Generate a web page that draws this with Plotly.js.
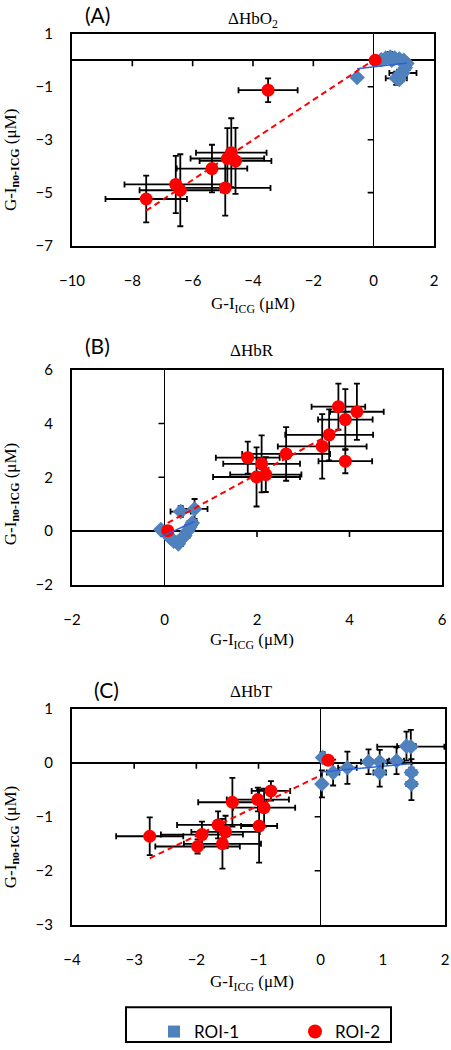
<!DOCTYPE html>
<html><head><meta charset="utf-8">
<script src="https://cdn.plot.ly/plotly-3.0.1.min.js"></script>
<style>html,body{margin:0;padding:0;background:#fff}</style>
</head><body><div id="chart" style="width:451px;height:1050px"></div>
<script>
// ---------- Panel A: ΔHbO2 ----------
const A_roi1_x  = [-0.55, 0.25, 0.40, 0.55, 0.70, 0.85, 1.00, 1.10, 1.05, 0.97, 0.85, 0.75, 0.85, 0.60];
const A_roi1_y  = [-0.65, 0.02, 0.08, 0.12, 0.08, 0.05, 0.00, -0.12, -0.28, -0.48, -0.55, -0.68, -0.72, 0.00];
const A_roi1_ex = [0.10, 0.10, 0.12, 0.10, 0.12, 0.15, 0.10, 0.12, 0.15, 0.45, 0.20, 0.35, 0.15, 0.10];
const A_roi1_ey = [0.12, 0.10, 0.15, 0.20, 0.15, 0.12, 0.10, 0.15, 0.15, 0.20, 0.20, 0.25, 0.15, 0.10];
const A_roi2_x  = [0.05, -3.50, -4.72, -4.85, -4.58, -5.36, -4.92, -6.56, -6.41, -7.54];
const A_roi2_y  = [0.00, -1.13, -3.49, -3.71, -3.80, -4.09, -4.82, -4.69, -4.91, -5.24];
const A_roi2_ex = [0.00, 0.98, 1.17, 1.22, 1.19, 1.17, 1.50, 1.70, 1.35, 1.35];
const A_roi2_ey = [0.00, 0.45, 1.30, 1.15, 1.25, 0.90, 1.05, 1.08, 1.36, 0.88];
const A_fit1_x = [-0.55, 1.10], A_fit1_y = [-0.32, -0.10];
const A_fit2_x = [-7.54, 0.05], A_fit2_y = [-5.68, 0.05];
const A_xrange = [-10, 2], A_xticks = [-10, -8, -6, -4, -2, 0, 2];
const A_yrange = [-7, 1],  A_yticks = [-7, -5, -3, -1, 1];

// ---------- Panel B: ΔHbR ----------
const B_roi1_x  = [-0.08, 0.05, 0.12, 0.20, 0.28, 0.36, 0.44, 0.50, 0.55, 0.60, 0.30, 0.35, 0.65];
const B_roi1_y  = [0.05, -0.10, -0.25, -0.38, -0.42, -0.30, -0.18, 0.00, 0.15, 0.30, -0.48, 0.72, 0.82];
const B_roi1_ex = [0.05, 0.05, 0.08, 0.08, 0.10, 0.10, 0.10, 0.08, 0.10, 0.10, 0.10, 0.22, 0.28];
const B_roi1_ey = [0.08, 0.10, 0.12, 0.15, 0.15, 0.15, 0.12, 0.12, 0.12, 0.15, 0.12, 0.20, 0.37];
const B_roi2_x  = [0.07, 1.80, 2.10, 1.99, 2.19, 2.63, 3.41, 3.56, 3.76, 3.91, 4.16, 3.91];
const B_roi2_y  = [0.01, 2.73, 2.50, 2.01, 2.10, 2.87, 3.15, 3.58, 4.63, 4.15, 4.44, 2.60];
const B_roi2_ex = [0.00, 0.69, 0.83, 0.94, 0.77, 0.95, 0.96, 0.95, 0.58, 0.59, 0.58, 0.58];
const B_roi2_ey = [0.00, 0.60, 1.06, 1.10, 0.65, 1.00, 1.20, 0.95, 0.86, 1.13, 1.05, 0.45];
const B_fit1_x = [-0.08, 0.65], B_fit1_y = [-0.22, 0.35];
const B_fit2_x = [0.07, 3.79],  B_fit2_y = [0.30, 3.80];
const B_xrange = [-2, 6], B_xticks = [-2, 0, 2, 4, 6];
const B_yrange = [-2, 6], B_yticks = [-2, 0, 2, 4, 6];

// ---------- Panel C: ΔHbT ----------
const C_roi1_x  = [0.03, 0.02, 0.20, 0.43, 0.77, 0.95, 0.95, 1.22, 1.38, 1.45, 1.46, 1.46];
const C_roi1_y  = [0.10, -0.39, -0.18, -0.09, 0.02, 0.02, -0.18, 0.04, 0.31, 0.30, -0.18, -0.39];
const C_roi1_ex = [0.05, 0.05, 0.10, 0.15, 0.12, 0.12, 0.10, 0.12, 0.15, 0.54, 0.08, 0.08];
const C_roi1_ey = [0.10, 0.25, 0.24, 0.30, 0.23, 0.22, 0.26, 0.25, 0.27, 0.31, 0.25, 0.30];
const C_roi2_x  = [0.12, -2.75, -1.98, -1.91, -1.65, -1.53, -1.58, -1.42, -1.01, -0.91, -0.80, -0.99];
const C_roi2_y  = [0.05, -1.36, -1.55, -1.33, -1.15, -1.28, -1.50, -0.73, -0.68, -0.83, -0.52, -1.17];
const C_roi2_ex = [0.00, 0.54, 0.68, 0.66, 0.66, 0.55, 0.62, 0.55, 0.50, 0.50, 0.31, 0.29];
const C_roi2_ey = [0.00, 0.35, 0.13, 0.24, 0.25, 0.30, 0.46, 0.45, 0.22, 0.35, 0.18, 0.68];
const C_fit1_x = [0.00, 1.47],  C_fit1_y = [-0.17, -0.01];
const C_fit2_x = [-2.75, 0.00], C_fit2_y = [-1.77, -0.23];
const C_xrange = [-4, 2], C_xticks = [-4, -3, -2, -1, 0, 1, 2];
const C_yrange = [-3, 1], C_yticks = [-3, -2, -1, 0, 1];

// ---------- labels ----------
const panelLetters = ['(A)', '(B)', '(C)'];
const panelTitles = ['ΔHbO<sub>2</sub>', 'ΔHbR', 'ΔHbT'];
const xTitle = 'G-I<sub>ICG</sub> (μM)';
const yTitle = 'G-I<sub><b>no-ICG</b></sub> (μM)';
const seriesNames = ['ROI-1', 'ROI-2'];

// ---------- layout geometry (pixels) ----------
const W = 451, H = 1050;
const boxes = [
  {l: 72, r: 434, t: 34, b: 247, letter: [97, 15], title: [253, 20], xt: [253, 307], yt: [12, 161]},
  {l: 72, r: 442, t: 372, b: 588, letter: [97, 347], title: [252, 353], xt: [252, 645], yt: [12, 497]},
  {l: 72, r: 445, t: 713, b: 930, letter: [106, 693], title: [252, 695], xt: [252, 989], yt: [12, 842]}
];
const legendBox = {l: 126, r: 391, t: 1013, b: 1048};
const px = v => v / W, py = v => 1 - v / H;
const TICKLEN = 6;

const panels = [
  {r1: [A_roi1_x, A_roi1_y, A_roi1_ex, A_roi1_ey], r2: [A_roi2_x, A_roi2_y, A_roi2_ex, A_roi2_ey],
   f1: [A_fit1_x, A_fit1_y], f2: [A_fit2_x, A_fit2_y], xr: A_xrange, xt: A_xticks, yr: A_yrange, yt: A_yticks},
  {r1: [B_roi1_x, B_roi1_y, B_roi1_ex, B_roi1_ey], r2: [B_roi2_x, B_roi2_y, B_roi2_ex, B_roi2_ey],
   f1: [B_fit1_x, B_fit1_y], f2: [B_fit2_x, B_fit2_y], xr: B_xrange, xt: B_xticks, yr: B_yrange, yt: B_yticks},
  {r1: [C_roi1_x, C_roi1_y, C_roi1_ex, C_roi1_ey], r2: [C_roi2_x, C_roi2_y, C_roi2_ex, C_roi2_ey],
   f1: [C_fit1_x, C_fit1_y], f2: [C_fit2_x, C_fit2_y], xr: C_xrange, xt: C_xticks, yr: C_yrange, yt: C_yticks}
];

const BLUE = '#4F81BD', RED = '#FF0000', FIT_BLUE = '#2F62D8';
const tickFont = {family: 'Lato, Carlito, sans-serif', size: 15, color: '#000'};
const serif = {family: 'Liberation Serif, Times New Roman, serif', size: 17, color: '#000'};

const traces = [], shapes = [], annotations = [];
const layout = {
  width: W, height: H, margin: {l: 0, r: 0, t: 0, b: 0},
  paper_bgcolor: '#fff', plot_bgcolor: '#fff', showlegend: true,
  legend: {orientation: 'h', x: px(154), y: py(1020), xanchor: 'left', yanchor: 'top',
           bgcolor: 'rgba(0,0,0,0)', borderwidth: 0, font: {family: 'Lato, Carlito, sans-serif', size: 17, color: '#000'},
           entrywidth: 96, entrywidthmode: 'pixels', itemclick: false},
  shapes: shapes, annotations: annotations
};

function errBar(arr) {
  return {type: 'data', array: arr, visible: true, color: '#000', thickness: 1.8, width: 3};
}

panels.forEach((p, i) => {
  const s = i === 0 ? '' : String(i + 1);
  const xa = 'x' + s, ya = 'y' + s;
  const bx = boxes[i];
  traces.push({type: 'scatter', mode: 'markers', x: p.r1[0], y: p.r1[1], xaxis: xa, yaxis: ya, showlegend: false,
    error_x: errBar(p.r1[2]), error_y: errBar(p.r1[3]),
    marker: {symbol: 'diamond', size: 12, color: BLUE}, hoverinfo: 'skip'});
  traces.push({type: 'scatter', mode: 'markers', x: p.r2[0], y: p.r2[1], xaxis: xa, yaxis: ya, showlegend: false,
    error_x: errBar(p.r2[2]), error_y: errBar(p.r2[3]),
    marker: {symbol: 'circle', size: 13, color: RED}, hoverinfo: 'skip'});
  traces.push({type: 'scatter', mode: 'lines', x: p.f1[0], y: p.f1[1], xaxis: xa, yaxis: ya, showlegend: false,
    line: {color: FIT_BLUE, width: 1.5}, hoverinfo: 'skip'});
  traces.push({type: 'scatter', mode: 'lines', x: p.f2[0], y: p.f2[1], xaxis: xa, yaxis: ya, showlegend: false,
    line: {color: RED, width: 2, dash: '6px,4px'}, hoverinfo: 'skip'});

  const common = {showline: true, mirror: true, linecolor: '#000', linewidth: 2, showgrid: false,
    zeroline: true, zerolinecolor: '#000', zerolinewidth: 1.6, ticks: '', tickfont: tickFont,
    tickmode: 'array', fixedrange: true};
  layout['xaxis' + s] = Object.assign({}, common, {domain: [px(bx.l), px(bx.r)], range: p.xr, tickvals: p.xt,
    anchor: ya, ticklabelstandoff: 20});
  layout['yaxis' + s] = Object.assign({}, common, {domain: [py(bx.b), py(bx.t)], range: p.yr, tickvals: p.yt,
    anchor: xa, ticklabelstandoff: 14});

  // small tick marks sitting on the zero lines (length converted from pixels to data units)
  const dyTick = TICKLEN * (p.yr[1] - p.yr[0]) / (bx.b - bx.t);
  const dxTick = TICKLEN * (p.xr[1] - p.xr[0]) / (bx.r - bx.l);
  p.xt.filter(v => v !== 0 && v !== p.xr[0] && v !== p.xr[1]).forEach(v => {
    shapes.push({type: 'line', xref: xa, yref: ya, layer: 'above',
      x0: v, x1: v, y0: 0, y1: -dyTick, line: {color: '#000', width: 1.6}});
  });
  p.yt.filter(v => v !== 0 && v !== p.yr[0] && v !== p.yr[1]).forEach(v => {
    shapes.push({type: 'line', xref: xa, yref: ya, layer: 'above',
      y0: v, y1: v, x0: 0, x1: -dxTick, line: {color: '#000', width: 1.6}});
  });

  annotations.push({text: panelLetters[i], xref: 'paper', yref: 'paper', x: px(bx.letter[0]), y: py(bx.letter[1]),
    showarrow: false, xanchor: 'center', yanchor: 'middle', font: {family: 'Lato, Carlito, sans-serif', size: 21, color: '#000'}});
  annotations.push({text: panelTitles[i], xref: 'paper', yref: 'paper', x: px(bx.title[0]), y: py(bx.title[1]),
    showarrow: false, xanchor: 'center', yanchor: 'middle', font: serif});
  annotations.push({text: xTitle, xref: 'paper', yref: 'paper', x: px(bx.xt[0]), y: py(bx.xt[1]),
    showarrow: false, xanchor: 'center', yanchor: 'middle', font: serif});
  annotations.push({text: yTitle, xref: 'paper', yref: 'paper', x: px(bx.yt[0]), y: py(bx.yt[1]),
    showarrow: false, xanchor: 'center', yanchor: 'middle', textangle: -90, font: serif});
});

// legend frame
shapes.push({type: 'rect', xref: 'paper', yref: 'paper', x0: px(legendBox.l), x1: px(legendBox.r),
  y0: py(legendBox.b), y1: py(legendBox.t), line: {color: '#000', width: 2}, fillcolor: 'rgba(0,0,0,0)'});

// legend-only entries
traces.push({type: 'scatter', mode: 'markers', x: [null], y: [null], name: seriesNames[0],
  marker: {symbol: 'square', size: 12, color: BLUE}, showlegend: true, xaxis: 'x3', yaxis: 'y3'});
traces.push({type: 'scatter', mode: 'markers', x: [null], y: [null], name: seriesNames[1],
  marker: {symbol: 'circle', size: 14, color: RED}, showlegend: true, xaxis: 'x3', yaxis: 'y3'});

Plotly.newPlot('chart', traces, layout, {displayModeBar: false, staticPlot: true});
</script>
</body></html>
